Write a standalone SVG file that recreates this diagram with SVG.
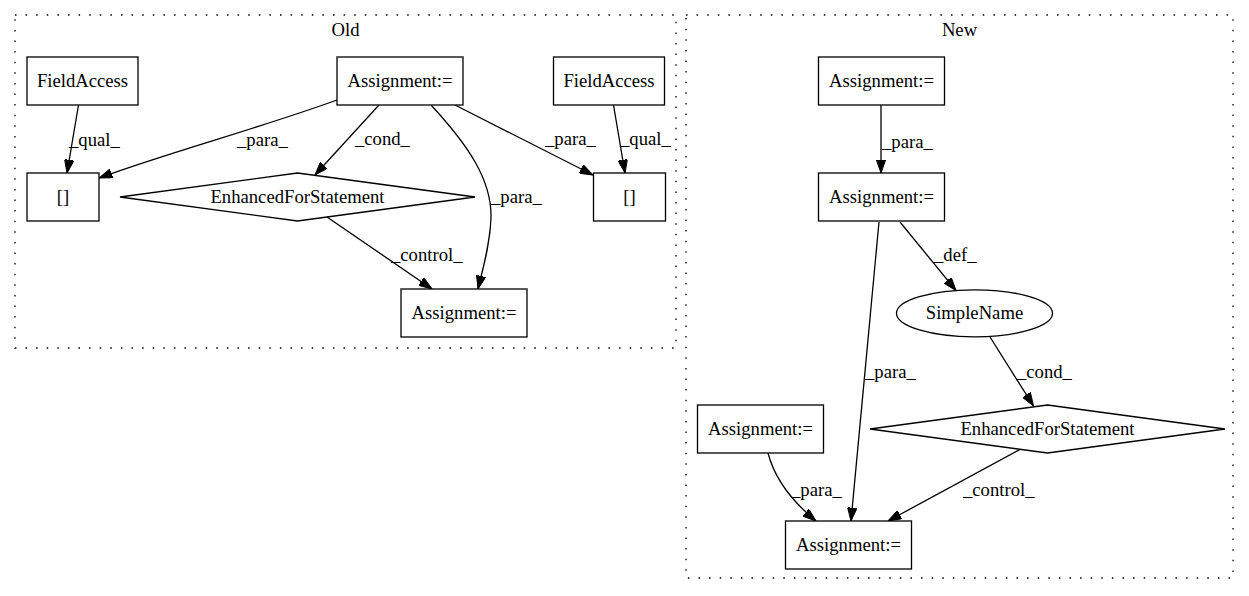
<svg xmlns="http://www.w3.org/2000/svg" width="1249" height="596" viewBox="0 0 1249 596">
<style>
.cl{fill:none;stroke:#000;stroke-width:1.3;stroke-dasharray:1.5,9.1}
.nd{fill:#fff;stroke:#000;stroke-width:1.3}
.t{font-family:"Liberation Serif","Times New Roman",serif;font-size:18.67px;fill:#000;text-anchor:middle}
.lb{font-family:"Liberation Serif","Times New Roman",serif;font-size:18.67px;fill:#000;text-anchor:start}
.e{fill:none;stroke:#000;stroke-width:1.3}
</style>
<defs>
<marker id="ah" viewBox="0 0 13.3 9.4" refX="13.3" refY="4.7" markerWidth="13.3" markerHeight="9.4" markerUnits="userSpaceOnUse" orient="auto">
<path d="M0,0 L13.3,4.7 L0,9.4 z" fill="#000" stroke="#000" stroke-width="1"/>
</marker>
</defs>
<rect width="1249" height="596" fill="#fff"/>
<g id="cluster_old">
<rect class="cl" x="15" y="15" width="661" height="333"/>
<text class="t" x="345.5" y="36">Old</text>
</g>
<g id="cluster_new">
<rect class="cl" x="686" y="15" width="547" height="563"/>
<text class="t" x="959.5" y="36">New</text>
</g>
<g id="connectors">
<path class="e" marker-end="url(#ah)" d="M78.5,105 L67,173"/>
<text class="lb" x="69" y="146">_qual_</text>
<path class="e" marker-end="url(#ah)" d="M337,100 C260,128 170,152 99,178"/>
<text class="lb" x="237" y="146">_para_</text>
<path class="e" marker-end="url(#ah)" d="M379,105 L315,175"/>
<text class="lb" x="355" y="145">_cond_</text>
<path class="e" marker-end="url(#ah)" d="M431,105 C468,145 492,180 491,218 C490,245 483,268 478,289"/>
<text class="lb" x="491" y="203">_para_</text>
<path class="e" marker-end="url(#ah)" d="M455,105 L593,175"/>
<text class="lb" x="545" y="145">_para_</text>
<path class="e" marker-end="url(#ah)" d="M613.5,105 L625,173"/>
<text class="lb" x="620" y="145">_qual_</text>
<path class="e" marker-end="url(#ah)" d="M327,217 L432,289"/>
<text class="lb" x="391" y="261">_control_</text>
<path class="e" marker-end="url(#ah)" d="M881,105 L881,173"/>
<text class="lb" x="882" y="148">_para_</text>
<path class="e" marker-end="url(#ah)" d="M900,222 L956,290.5"/>
<text class="lb" x="934" y="261">_def_</text>
<path class="e" marker-end="url(#ah)" d="M879,222 L851,521"/>
<text class="lb" x="865" y="378">_para_</text>
<path class="e" marker-end="url(#ah)" d="M990,337 L1033.5,406"/>
<text class="lb" x="1017" y="378">_cond_</text>
<path class="e" marker-end="url(#ah)" d="M768,453 C774,476 788,498 816,521"/>
<text class="lb" x="791" y="496">_para_</text>
<path class="e" marker-end="url(#ah)" d="M1020,449.5 L888,521"/>
<text class="lb" x="963" y="496">_control_</text>
</g>
<g id="old_fieldaccess1">
<rect class="nd" x="27" y="57" width="111" height="48"/>
<text class="t" x="82.5" y="86.7">FieldAccess</text>
</g>
<g id="old_assignment1">
<rect class="nd" x="337" y="57" width="126" height="48"/>
<text class="t" x="400" y="86.7">Assignment:=</text>
</g>
<g id="old_fieldaccess2">
<rect class="nd" x="553.5" y="57" width="111" height="48"/>
<text class="t" x="609" y="86.7">FieldAccess</text>
</g>
<g id="old_index1">
<rect class="nd" x="27" y="173" width="72" height="48"/>
<text class="t" x="63" y="202.7">[]</text>
</g>
<g id="old_enhancedfor">
<polygon class="nd" points="297.5,173 475,197 297.5,221 120,197"/>
<text class="t" x="297.5" y="202.7">EnhancedForStatement</text>
</g>
<g id="old_index2">
<rect class="nd" x="593.5" y="173" width="72" height="48"/>
<text class="t" x="629.5" y="202.7">[]</text>
</g>
<g id="old_assignment2">
<rect class="nd" x="401" y="289" width="126" height="48"/>
<text class="t" x="464" y="318.7">Assignment:=</text>
</g>
<g id="new_assignment1">
<rect class="nd" x="818.5" y="57" width="126" height="48"/>
<text class="t" x="881.5" y="86.7">Assignment:=</text>
</g>
<g id="new_assignment2">
<rect class="nd" x="818.5" y="173" width="126" height="48"/>
<text class="t" x="881.5" y="202.7">Assignment:=</text>
</g>
<g id="new_simplename">
<ellipse class="nd" cx="974.5" cy="313.3" rx="78" ry="23.5"/>
<text class="t" x="974.5" y="319">SimpleName</text>
</g>
<g id="new_enhancedfor">
<polygon class="nd" points="1047.5,405 1225,429 1047.5,453 870,429"/>
<text class="t" x="1047.5" y="434.7">EnhancedForStatement</text>
</g>
<g id="new_assignment3">
<rect class="nd" x="697.5" y="405" width="126" height="48"/>
<text class="t" x="760.5" y="434.7">Assignment:=</text>
</g>
<g id="new_assignment4">
<rect class="nd" x="785.5" y="521" width="126" height="48"/>
<text class="t" x="848.5" y="550.7">Assignment:=</text>
</g>
</svg>
